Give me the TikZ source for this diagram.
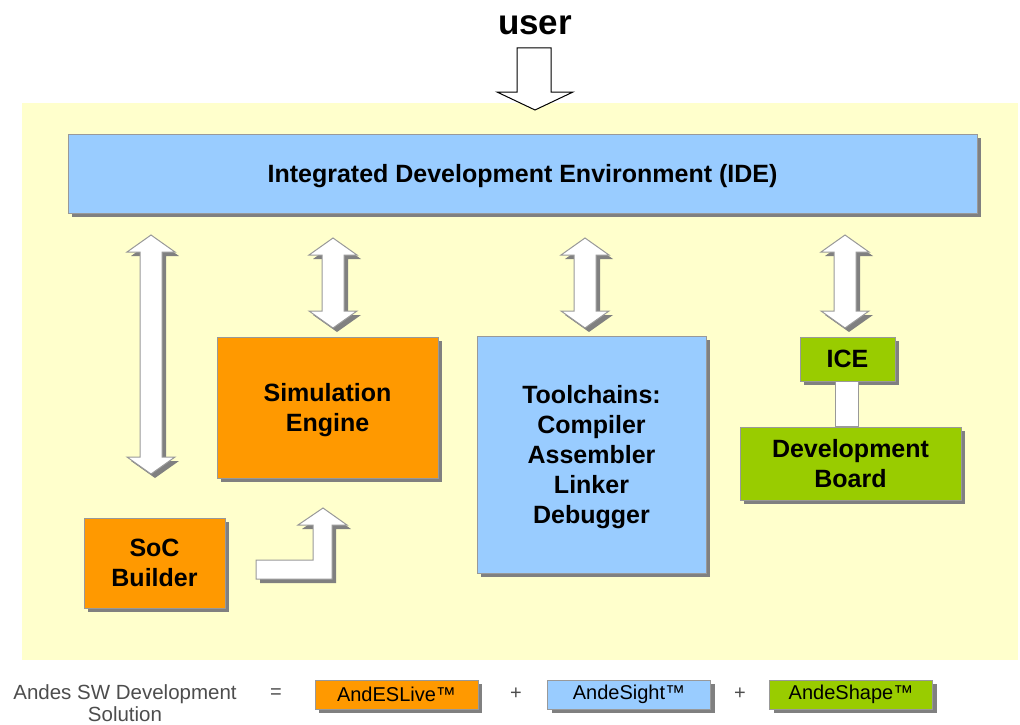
\documentclass[tikz,border=0pt]{standalone}
\usepackage{fontspec}
\setmainfont{Liberation Sans}
\usetikzlibrary{shadows,calc}

\definecolor{ideblue}{HTML}{99CCFF}
\definecolor{andorange}{HTML}{FF9900}
\definecolor{andgreen}{HTML}{99CC00}
\definecolor{paleyellow}{HTML}{FFFFCC}
\definecolor{edgegray}{HTML}{999999}
\definecolor{shadegray}{HTML}{808080}
\definecolor{legendtext}{HTML}{4D4D4D}

\tikzset{
  shade4/.style={drop shadow={shadow xshift=4pt,shadow yshift=-4pt,fill=shadegray,opacity=1}},
  block/.style={draw=edgegray,line width=1pt,shade4,align=center,
    font=\fontsize{25}{30}\selectfont\bfseries,text depth=-3pt},
  tag/.style={draw=edgegray,line width=1pt,shade4,minimum width=163pt,minimum height=29pt,
    font=\fontsize{20}{24}\selectfont},
  arrowbody/.style={draw=edgegray,fill=white,line width=1pt,line join=miter,shade4},
}

% double block arrow: x, top, bottom
\newcommand{\dblarr}[3]{%
  \draw[arrowbody] (#1,#2) -- (#1+24,#2+17) -- (#1+11,#2+17) -- (#1+11,#3-17)
    -- (#1+24,#3-17) -- (#1,#3) -- (#1-24,#3-17) -- (#1-11,#3-17)
    -- (#1-11,#2+17) -- (#1-24,#2+17) -- cycle;}

\begin{document}
\begin{tikzpicture}[x=1pt,y=-1pt]
  \useasboundingbox (0,0) rectangle (1020,725);
  % Hintergrund
  \fill[paleyellow] (22,103) rectangle (1018,660);

  % user
  \node[font=\fontsize{35}{40}\selectfont\bfseries] (user) at (535,25) {user};
  \draw[fill=white,line width=1pt] (517,48) -- (551,48) -- (551,92) -- (573,92)
    -- (535,110) -- (497,92) -- (517,92) -- cycle;

  % Kaesten
  \node[block,fill=ideblue,minimum width=909pt,minimum height=79pt] (ide) at (522.5,173.5)
    {Integrated Development Environment (IDE)};
  \node[block,fill=andorange,minimum width=221pt,minimum height=141pt] (sim) at (327.5,407.5)
    {Simulation\\Engine};
  \node[block,fill=ideblue,minimum width=229pt,minimum height=237pt] (tool) at (591.5,454.5)
    {Toolchains:\\Compiler\\Assembler\\Linker\\Debugger};
  \node[block,fill=andgreen,minimum width=95pt,minimum height=44pt] (ice) at (847.5,359)
    {ICE};
  \node[block,fill=andgreen,minimum width=221pt,minimum height=73pt] (board) at (850.5,463.5)
    {Development\\Board};
  \node[block,fill=andorange,minimum width=141pt,minimum height=90pt] (soc) at (154.5,563)
    {SoC\\Builder};

  % ICE - Board
  \draw[draw=edgegray,fill=white,line width=1pt] ([xshift=-12pt]ice.south)
    rectangle ([xshift=11pt]ice.south |- board.north);

  % Doppelpfeile
  \dblarr{151}{235}{474}
  \dblarr{333}{238}{328}
  \dblarr{585}{238}{328}
  \dblarr{845}{235}{328}

  % Winkelpfeil SoC -> Simulation
  \draw[arrowbody] (256,560) -- (313,560) -- (313,525) -- (298,525) -- (323,508)
    -- (347,525) -- (332,525) -- (332,579) -- (256,579) -- cycle;

  % Legende
  \node[align=center,text=legendtext,font=\fontsize{20.5}{22}\selectfont] (sol) at (125,703)
    {Andes SW Development\\Solution};
  \node[text=legendtext,font=\fontsize{20}{24}\selectfont] (eq) at (276,694) {=};
  \node[tag,fill=andorange] (live) at (396.5,694.5) {AndESLive™};
  \node[text=legendtext,font=\fontsize{20}{24}\selectfont] (plus1) at (516,694) {+};
  \node[tag,fill=ideblue] (sight) at (629,694.5) {AndeSight™};
  \node[text=legendtext,font=\fontsize{20}{24}\selectfont] (plus2) at (740,694) {+};
  \node[tag,fill=andgreen] (shape) at (851,694.5) {AndeShape™};
\end{tikzpicture}
\end{document}
